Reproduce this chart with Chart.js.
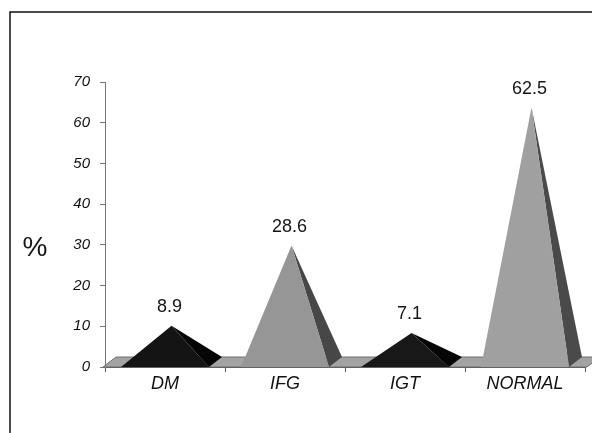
<!DOCTYPE html>
<html>
<head>
<meta charset="utf-8">
<script src="https://cdn.jsdelivr.net/npm/chart.js@4/dist/chart.umd.min.js"></script>
<style>
  html, body { margin: 0; padding: 0; background: #ffffff; }
  #wrap { position: relative; width: 592px; height: 433px; }
</style>
</head>
<body>
<div id="wrap"><canvas id="c" width="592" height="433"></canvas></div>
<script>
// ---- data ----
const categories = ['DM', 'IFG', 'IGT', 'NORMAL'];
const percentages = [8.9, 28.6, 7.1, 62.5];
const yTickValues = [0, 10, 20, 30, 40, 50, 60, 70];
const yAxisLabel = '%';

// ---- styles ----
const FONT = '"Liberation Sans", Arial, Helvetica, sans-serif';
const frontColors = ['#141414', '#969696', '#181818', '#a0a0a0'];
const sideColors  = ['#060606', '#474747', '#060606', '#4a4a4a'];
const DEPTH_X = 13, DEPTH_Y = 10;

const pyramidPlugin = {
  id: 'pyramids',
  beforeDraw(chart) {
    const ctx = chart.ctx;
    ctx.save();
    ctx.strokeStyle = '#111';
    ctx.lineWidth = 1.5;
    ctx.beginPath();
    ctx.moveTo(10, chart.height);
    ctx.lineTo(10, 12);
    ctx.lineTo(chart.width, 12);
    ctx.stroke();
    ctx.restore();
  },
  beforeDatasetsDraw(chart) {
    const ctx = chart.ctx;
    const area = chart.chartArea;
    const base = chart.scales.y.getPixelForValue(0);
    const l = area.left - 2, r = area.right + 2;
    ctx.save();
    ctx.fillStyle = '#a3a3a3';
    ctx.strokeStyle = '#707070';
    ctx.lineWidth = 1;
    ctx.beginPath();
    ctx.moveTo(l, base);
    ctx.lineTo(r, base);
    ctx.lineTo(r + DEPTH_X, base - DEPTH_Y);
    ctx.lineTo(l + DEPTH_X, base - DEPTH_Y);
    ctx.closePath();
    ctx.fill();
    ctx.stroke();
    ctx.restore();
  },
  afterDatasetsDraw(chart) {
    const ctx = chart.ctx;
    const yScale = chart.scales.y;
    const meta = chart.getDatasetMeta(0);
    const base = yScale.getPixelForValue(0);
    ctx.save();
    meta.data.forEach((bar, i) => {
      const v = chart.data.datasets[0].data[i];
      const half = bar.width / 2;
      const xl = bar.x - half, xr = bar.x + half;
      const px = bar.x + DEPTH_X / 2;
      const py = yScale.getPixelForValue(v) - DEPTH_Y / 2;
      // right side face
      ctx.fillStyle = sideColors[i];
      ctx.beginPath();
      ctx.moveTo(xr, base);
      ctx.lineTo(xr + DEPTH_X, base - DEPTH_Y);
      ctx.lineTo(px, py);
      ctx.closePath();
      ctx.fill();
      // front face
      ctx.fillStyle = frontColors[i];
      ctx.beginPath();
      ctx.moveTo(xl, base);
      ctx.lineTo(xr, base);
      ctx.lineTo(px, py);
      ctx.closePath();
      ctx.fill();
      // value label
      ctx.fillStyle = '#151515';
      ctx.font = '18px ' + FONT;
      ctx.textAlign = 'center';
      ctx.textBaseline = 'middle';
      ctx.fillText(String(v), px - 2, py - 19);
    });
    // "%" axis label
    ctx.fillStyle = '#151515';
    ctx.font = '28px ' + FONT;
    ctx.textAlign = 'center';
    ctx.textBaseline = 'middle';
    ctx.fillText(yAxisLabel, 35, yScale.getPixelForValue(30) + 3);
    ctx.restore();
  }
};

new Chart(document.getElementById('c'), {
  type: 'bar',
  data: {
    labels: categories,
    datasets: [{
      data: percentages,
      backgroundColor: 'rgba(0,0,0,0)',
      borderWidth: 0,
      barPercentage: 0.733,
      categoryPercentage: 1.0
    }]
  },
  options: {
    responsive: false,
    animation: false,
    devicePixelRatio: 1,
    layout: { padding: { top: 82, right: 7, left: 0, bottom: 0 } },
    plugins: { legend: { display: false }, tooltip: { enabled: false } },
    scales: {
      x: {
        afterFit(scale) { scale.height = 66; },
        grid: { display: true, drawOnChartArea: false, drawTicks: true, tickLength: 5, color: '#555', offset: true },
        border: { display: true, color: '#555', width: 1 },
        ticks: { color: '#111', padding: 1, font: { family: FONT, size: 18, style: 'italic' } }
      },
      y: {
        min: 0,
        max: 70,
        afterFit(scale) { scale.width = 105; },
        afterBuildTicks(scale) { scale.ticks = yTickValues.map(v => ({ value: v })); },
        grid: { display: true, drawOnChartArea: false, drawTicks: true, tickLength: 5, color: '#777' },
        border: { display: true, color: '#777', width: 1 },
        ticks: { color: '#111', padding: 10, font: { family: FONT, size: 15, style: 'italic' } }
      }
    }
  },
  plugins: [pyramidPlugin]
});
</script>
</body>
</html>
